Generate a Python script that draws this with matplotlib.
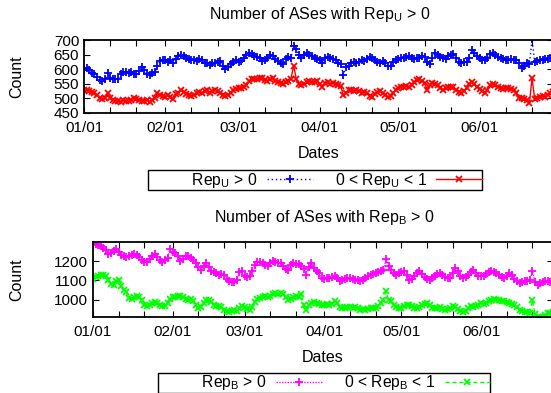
import numpy as np
import pandas as pd
import matplotlib
matplotlib.use("Agg")
import matplotlib.pyplot as plt
import matplotlib.dates as mdates

plt.rcParams['font.family'] = ['Liberation Sans', 'DejaVu Sans']
plt.rcParams['font.size'] = 11

# daily values, 01/01 .. 06/29
dates = pd.date_range("2009-01-01", periods=180, freq="D")

rep_u_pos = [
    600, 605, 598, 588, 585, 575, 563, 558, 565, 588, 570, 566, 568, 565, 585, 590, 592, 588, 590, 582,
    585, 595, 606, 598, 585, 580, 586, 590, 610, 628, 632, 630, 625, 630, 620, 635, 645, 648, 646, 640,
    636, 632, 630, 628, 635, 630, 622, 620, 615, 622, 620, 626, 628, 610, 600, 606, 618, 626, 630, 625,
    628, 640, 650, 656, 652, 645, 643, 640, 628, 632, 640, 648, 645, 635, 628, 620, 618, 635, 643, 640,
    680, 668, 650, 640, 648, 654, 650, 645, 640, 636, 630, 620, 638, 642, 640, 635, 630, 622, 618, 580,
    608, 612, 620, 625, 622, 625, 630, 628, 635, 643, 640, 632, 625, 622, 628, 620, 610, 612, 625, 632,
    636, 640, 638, 642, 645, 640, 636, 638, 640, 645, 642, 625, 618, 640, 656, 650, 642, 640, 636, 645,
    650, 652, 640, 625, 622, 625, 626, 640, 665, 655, 645, 640, 632, 630, 640, 652, 655, 650, 643, 640,
    635, 632, 630, 636, 630, 632, 620, 605, 610, 620, 618, 702, 625, 628, 630, 632, 636, 634, 638, 640,
]
rep_u_mid = [
    528, 530, 525, 522, 520, 512, 500, 498, 502, 517, 500, 495, 490, 492, 488, 495, 492, 490, 496, 500,
    498, 495, 492, 490, 496, 488, 495, 500, 518, 512, 508, 506, 510, 505, 498, 515, 520, 528, 522, 515,
    510, 508, 512, 520, 523, 518, 525, 528, 520, 525, 530, 526, 518, 512, 508, 512, 520, 528, 532, 535,
    536, 540, 546, 558, 566, 568, 567, 569, 570, 562, 560, 565, 570, 560, 556, 552, 550, 555, 560, 568,
    612, 568, 550, 545, 550, 556, 558, 555, 556, 560, 548, 540, 552, 555, 550, 552, 548, 545, 542, 510,
    520, 528, 530, 525, 530, 526, 520, 523, 518, 508, 505, 515, 522, 524, 520, 510, 505, 508, 520, 530,
    536, 538, 540, 542, 540, 545, 555, 563, 566, 560, 552, 530, 545, 552, 550, 545, 535, 530, 534, 538,
    540, 538, 530, 522, 520, 524, 535, 550, 557, 548, 540, 532, 525, 520, 530, 545, 548, 545, 540, 536,
    532, 534, 535, 532, 530, 520, 502, 500, 498, 496, 484, 570, 498, 500, 505, 508, 506, 512, 518, 522,
]
rep_b_pos = [
    1295, 1290, 1285, 1278, 1270, 1258, 1238, 1245, 1255, 1262, 1250, 1232, 1225, 1222, 1228, 1232, 1236, 1234, 1220, 1208,
    1198, 1194, 1210, 1225, 1236, 1220, 1205, 1198, 1205, 1218, 1262, 1250, 1243, 1225, 1200, 1212, 1228, 1225, 1218, 1205,
    1190, 1170, 1155, 1175, 1190, 1170, 1150, 1145, 1138, 1130, 1132, 1128, 1110, 1095, 1090, 1092, 1105, 1145, 1150, 1125,
    1118, 1125, 1150, 1180, 1196, 1195, 1190, 1180, 1174, 1190, 1203, 1195, 1192, 1190, 1175, 1160, 1156, 1180, 1190, 1188,
    1185, 1174, 1160, 1130, 1170, 1191, 1165, 1148, 1140, 1115, 1110, 1112, 1115, 1118, 1122, 1115, 1096, 1100, 1110, 1113,
    1112, 1108, 1104, 1100, 1096, 1105, 1115, 1125, 1130, 1135, 1140, 1146, 1150, 1152, 1212, 1175, 1156, 1140, 1130, 1138,
    1146, 1150, 1130, 1104, 1110, 1125, 1140, 1148, 1135, 1120, 1108, 1104, 1115, 1125, 1135, 1139, 1130, 1120, 1115, 1113,
    1140, 1165, 1148, 1125, 1113, 1118, 1130, 1145, 1156, 1140, 1125, 1122, 1125, 1135, 1142, 1148, 1146, 1140, 1130, 1120,
    1113, 1125, 1139, 1130, 1110, 1095, 1087, 1090, 1095, 1096, 1100, 1148, 1090, 1078, 1085, 1092, 1096, 1095, 1094, 1096,
]
rep_b_mid = [
    1110, 1118, 1122, 1128, 1130, 1125, 1100, 1080, 1078, 1095, 1104, 1070, 1052, 1040, 1010, 1005, 1012, 1017, 1015, 1000,
    975, 965, 972, 985, 988, 982, 970, 965, 968, 985, 1005, 1012, 1015, 1017, 1018, 1012, 1005, 1000, 1002, 995,
    975, 957, 960, 985, 1000, 998, 990, 972, 965, 968, 962, 948, 940, 938, 942, 945, 943, 955, 965, 962,
    950, 948, 960, 990, 1005, 1009, 1012, 1017, 1015, 1020, 1028, 1035, 1030, 1035, 1032, 1015, 1000, 1002, 1012, 1017,
    1015, 1030, 975, 948, 970, 985, 990, 983, 978, 974, 970, 976, 972, 980, 991, 985, 962, 957, 955, 960,
    962, 958, 962, 955, 948, 950, 946, 952, 957, 955, 958, 965, 985, 1000, 1043, 998, 991, 975, 960, 955,
    958, 968, 974, 972, 965, 957, 955, 960, 970, 980, 983, 970, 957, 955, 958, 960, 952, 948, 950, 958,
    965, 963, 950, 940, 938, 942, 955, 965, 962, 968, 975, 983, 980, 985, 992, 1000, 1002, 998, 1000, 995,
    991, 990, 985, 978, 974, 962, 945, 940, 938, 935, 931, 997, 925, 912, 908, 910, 920, 930, 932, 935,
]

W, H = 551, 393
fig = plt.figure(figsize=(W / 100, H / 100), dpi=100)


def px_axes(left, top, right, bottom):
    return fig.add_axes([left / W, 1 - bottom / H, (right - left) / W, (bottom - top) / H])


def style_axes(ax, left):
    ax.set_xlim(dates[0], dates[-1])
    ax.xaxis.set_major_locator(mdates.MonthLocator())
    ax.xaxis.set_minor_locator(mdates.DayLocator(bymonthday=[11, 21]))
    ax.xaxis.set_major_formatter(mdates.DateFormatter("%m/%d"))
    ax.tick_params(which="both", direction="in", top=True, right=True, length=4, width=0.8)
    ax.tick_params(axis="x", pad=6)
    for s in ax.spines.values():
        s.set_linewidth(1.3)
    ax.set_xlabel("Dates", labelpad=8, fontsize=11.5)
    ax.set_ylabel("Count", fontsize=11.5)
    # put "Count" near the figure's left edge, like the original
    ax.yaxis.set_label_coords((24 - left) / (553 - left), 0.5)


def add_legend(handles, labels, x, y):
    fig.legend(handles, labels, loc="center", bbox_to_anchor=(x / W, 1 - y / H), ncol=2,
               markerfirst=False, frameon=True, fancybox=False, edgecolor="black", framealpha=1,
               handlelength=2.9, columnspacing=1.4, borderpad=0.02, handletextpad=0.6,
               fontsize=11.3)


# top panel
ax1 = px_axes(84, 40, 553, 113)
l1, = ax1.plot(dates, rep_u_pos, color="blue", ls=(0, (1, 2)), lw=1, marker="+", ms=5.5, mew=1.3)
l2, = ax1.plot(dates, rep_u_mid, color="red", ls="-", lw=1, marker="x", ms=4.5, mew=1.3)
ax1.set_ylim(450, 700)
ax1.set_yticks([450, 500, 550, 600, 650, 700])
style_axes(ax1, 84)
fig.text(320 / W, 1 - 15 / H, r"Number of ASes with Rep$_\mathregular{U}$ > 0",
         ha="center", va="center", fontsize=11.5)
add_legend([l1, l2], [r"          Rep$_\mathregular{U}$ > 0", r"0 < Rep$_\mathregular{U}$ < 1"], 315, 180)

# bottom panel
ax2 = px_axes(93, 242, 553, 317)
l3, = ax2.plot(dates, rep_b_pos, color="magenta", ls=(0, (1, 1)), lw=1, marker="+", ms=5.5, mew=1.3)
l4, = ax2.plot(dates, rep_b_mid, color="#00ff00", ls=(0, (3, 2)), lw=1, marker="x", ms=4.5, mew=1.3)
ax2.set_ylim(910, 1300)
ax2.set_yticks([1000, 1100, 1200])
style_axes(ax2, 93)
fig.text(324 / W, 1 - 218 / H, r"Number of ASes with Rep$_\mathregular{B}$ > 0",
         ha="center", va="center", fontsize=11.5)
add_legend([l3, l4], [r"          Rep$_\mathregular{B}$ > 0", r"0 < Rep$_\mathregular{B}$ < 1"], 324, 383)

fig.savefig("out.png", dpi=100)
